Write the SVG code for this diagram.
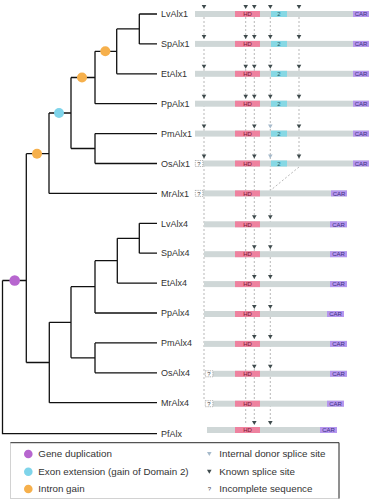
<svg xmlns="http://www.w3.org/2000/svg" width="373" height="500" viewBox="0 0 373 500">
<defs>
<style>
.lbl{font-family:"Liberation Sans",Arial,sans-serif;font-size:9px;fill:#333}
.leg{font-family:"Liberation Sans",Arial,sans-serif;font-size:9.8px;fill:#333}
.tree{fill:none;stroke:#111;stroke-width:1.3}
.bar{fill:#cfd7d7}
.hd{fill:#ee829f}
.d2{fill:#86d8e4}
.car{fill:#b596ee}
.bt{font-family:"Liberation Sans",Arial,sans-serif;font-size:6px;text-anchor:middle}
.hdt{fill:#7a1232}
.cart{fill:#3b2f80}
.d2t{fill:#1d5a66}
.dash{stroke:#999;stroke-width:0.7;stroke-dasharray:2 2;fill:none}
.q{fill:#fff;stroke:#777;stroke-width:0.6;stroke-dasharray:1.2 1}
.qt{font-family:"Liberation Sans",Arial,sans-serif;font-size:6px;fill:#444;text-anchor:middle}
.tk{fill:#3e4a4c}
.ti{fill:#a6bacb}
</style>
<path id="tri" d="M-2.3,0 L2.3,0 L0,4 Z"/>
</defs>

<g id="connectors">
<path class="tree" d="M139.3,14H157M139.3,43.9H157M139.3,14V43.9M116.7,28.9H139.3M116.7,73.8H157M116.7,28.9V73.8M95,51.3H116.7M95,103.7H157M95,51.3V103.7M71,77.5H95M95,133.6H157M95,163.5H157M95,133.6V163.5M71,148.5H95M71,77.5V148.5M49,113H71M49,193.4H157M49,113V193.4M26.3,153.7H49"/>
<path class="tree" d="M139.3,223.3H157M139.3,253.2H157M139.3,223.3V253.2M117.3,238.3H139.3M117.3,283.1H157M117.3,238.3V283.1M95,260.7H117.3M95,313H157M95,260.7V313M71,286.7H95M95,342.9H157M95,372.8H157M95,342.9V372.8M71,357.8H95M71,286.7V357.8M49.3,322.3H71M49.3,402.7H157M49.3,322.3V402.7M26.3,362.5H49.3M26.3,153.7V362.5M2.5,280.5H26.3M2.5,280.5V433.7H157"/>
<g id="dashes">
<path class="dash" d="M204,17V400M245.7,17V425M254.3,17V421M270.3,17V421M299,17V160M299,167L271,190"/>
</g>
</g>

<g id="events">
<circle cx="105.3" cy="51.3" r="5" fill="#f6b04c"/>
<circle cx="82" cy="77.5" r="5" fill="#f6b04c"/>
<circle cx="59" cy="113" r="5" fill="#7fd4ea"/>
<circle cx="37" cy="153.7" r="5" fill="#f6b04c"/>
<circle cx="14.7" cy="280.5" r="5.3" fill="#b766cf"/>
</g>

<g id="LvAlx1"><text class="lbl" x="161" y="17.2">LvAlx1</text>
<rect class="bar" x="195" y="11" width="174" height="6"/><rect class="hd" x="235" y="11" width="25" height="6"/><text class="bt hdt" x="247.5" y="16.2">HD</text><rect class="d2" x="271" y="11" width="16" height="6"/><text class="bt d2t" x="279" y="16.2">2</text><rect class="car" x="353" y="11" width="16" height="6"/><text class="bt cart" x="361" y="16.2">CAR</text>
<use href="#tri" class="tk" x="204" y="5"/><use href="#tri" class="tk" x="245.7" y="5"/><use href="#tri" class="tk" x="254.3" y="5"/><use href="#tri" class="tk" x="270.3" y="5"/><use href="#tri" class="tk" x="299" y="5"/></g>

<g id="SpAlx1"><text class="lbl" x="161" y="47.1">SpAlx1</text>
<rect class="bar" x="195" y="40.9" width="174" height="6"/><rect class="hd" x="235" y="40.9" width="25" height="6"/><text class="bt hdt" x="247.5" y="46.1">HD</text><rect class="d2" x="271" y="40.9" width="16" height="6"/><text class="bt d2t" x="279" y="46.1">2</text><rect class="car" x="353" y="40.9" width="16" height="6"/><text class="bt cart" x="361" y="46.1">CAR</text>
<use href="#tri" class="tk" x="204" y="34.9"/><use href="#tri" class="tk" x="245.7" y="34.9"/><use href="#tri" class="tk" x="254.3" y="34.9"/><use href="#tri" class="tk" x="270.3" y="34.9"/><use href="#tri" class="tk" x="299" y="34.9"/></g>

<g id="EtAlx1"><text class="lbl" x="161" y="77">EtAlx1</text>
<rect class="bar" x="195" y="70.8" width="174" height="6"/><rect class="hd" x="235" y="70.8" width="25" height="6"/><text class="bt hdt" x="247.5" y="76">HD</text><rect class="d2" x="271" y="70.8" width="16" height="6"/><text class="bt d2t" x="279" y="76">2</text><rect class="car" x="353" y="70.8" width="16" height="6"/><text class="bt cart" x="361" y="76">CAR</text>
<use href="#tri" class="tk" x="204" y="64.8"/><use href="#tri" class="tk" x="245.7" y="64.8"/><use href="#tri" class="tk" x="254.3" y="64.8"/><use href="#tri" class="tk" x="270.3" y="64.8"/><use href="#tri" class="tk" x="299" y="64.8"/></g>

<g id="PpAlx1"><text class="lbl" x="161" y="106.9">PpAlx1</text>
<rect class="bar" x="195" y="100.7" width="174" height="6"/><rect class="hd" x="235" y="100.7" width="25" height="6"/><text class="bt hdt" x="247.5" y="105.9">HD</text><rect class="d2" x="271" y="100.7" width="16" height="6"/><text class="bt d2t" x="279" y="105.9">2</text><rect class="car" x="353" y="100.7" width="16" height="6"/><text class="bt cart" x="361" y="105.9">CAR</text>
<use href="#tri" class="tk" x="204" y="94.7"/><use href="#tri" class="tk" x="245.7" y="94.7"/><use href="#tri" class="tk" x="254.3" y="94.7"/><use href="#tri" class="tk" x="270.3" y="94.7"/><use href="#tri" class="tk" x="299" y="94.7"/></g>

<g id="PmAlx1"><text class="lbl" x="161" y="136.8">PmAlx1</text>
<rect class="bar" x="195" y="130.6" width="174" height="6"/><rect class="hd" x="235" y="130.6" width="25" height="6"/><text class="bt hdt" x="247.5" y="135.8">HD</text><rect class="d2" x="271" y="130.6" width="16" height="6"/><text class="bt d2t" x="279" y="135.8">2</text><rect class="car" x="353" y="130.6" width="16" height="6"/><text class="bt cart" x="361" y="135.8">CAR</text>
<use href="#tri" class="tk" x="204" y="124.6"/><use href="#tri" class="tk" x="254.3" y="124.6"/><use href="#tri" class="ti" x="270.3" y="124.6"/><use href="#tri" class="tk" x="299" y="124.6"/></g>

<g id="OsAlx1"><text class="lbl" x="161" y="166.7">OsAlx1</text>
<rect class="bar" x="203" y="160.5" width="166" height="6"/><rect class="q" x="195.3" y="160.5" width="7.5" height="6"/><text class="qt" x="199" y="165.6">?</text><rect class="hd" x="235" y="160.5" width="25" height="6"/><text class="bt hdt" x="247.5" y="165.7">HD</text><rect class="d2" x="271" y="160.5" width="16" height="6"/><text class="bt d2t" x="279" y="165.7">2</text><rect class="car" x="353" y="160.5" width="16" height="6"/><text class="bt cart" x="361" y="165.7">CAR</text>
<use href="#tri" class="tk" x="204" y="154.5"/><use href="#tri" class="tk" x="254.3" y="154.5"/><use href="#tri" class="ti" x="270.3" y="154.5"/><use href="#tri" class="tk" x="299" y="154.5"/></g>

<g id="MrAlx1"><text class="lbl" x="161" y="196.6">MrAlx1</text>
<rect class="bar" x="203" y="190.4" width="144" height="6"/><rect class="q" x="195.3" y="190.4" width="7.5" height="6"/><text class="qt" x="199" y="195.5">?</text><rect class="hd" x="235" y="190.4" width="25" height="6"/><text class="bt hdt" x="247.5" y="195.6">HD</text><rect class="car" x="331" y="190.4" width="16" height="6"/><text class="bt cart" x="339" y="195.6">CAR</text></g>

<g id="LvAlx4"><text class="lbl" x="161" y="226.5">LvAlx4</text>
<rect class="bar" x="204" y="221.3" width="143" height="6"/><rect class="hd" x="235" y="221.3" width="25" height="6"/><text class="bt hdt" x="247.5" y="226.5">HD</text><rect class="car" x="330" y="221.3" width="17" height="6"/><text class="bt cart" x="338.5" y="226.5">CAR</text>
<use href="#tri" class="tk" x="254.3" y="215.3"/><use href="#tri" class="tk" x="270.3" y="215.3"/></g>

<g id="SpAlx4"><text class="lbl" x="161" y="256.4">SpAlx4</text>
<rect class="bar" x="204" y="251.2" width="143" height="6"/><rect class="hd" x="235" y="251.2" width="25" height="6"/><text class="bt hdt" x="247.5" y="256.4">HD</text><rect class="car" x="330" y="251.2" width="17" height="6"/><text class="bt cart" x="338.5" y="256.4">CAR</text>
<use href="#tri" class="tk" x="254.3" y="245.2"/><use href="#tri" class="tk" x="270.3" y="245.2"/></g>

<g id="EtAlx4"><text class="lbl" x="161" y="286.3">EtAlx4</text>
<rect class="bar" x="204" y="281.1" width="143" height="6"/><rect class="hd" x="235" y="281.1" width="25" height="6"/><text class="bt hdt" x="247.5" y="286.3">HD</text><rect class="car" x="330" y="281.1" width="17" height="6"/><text class="bt cart" x="338.5" y="286.3">CAR</text>
<use href="#tri" class="tk" x="254.3" y="275.1"/><use href="#tri" class="tk" x="270.3" y="275.1"/></g>

<g id="PpAlx4"><text class="lbl" x="161" y="316.2">PpAlx4</text>
<rect class="bar" x="204" y="311" width="140" height="6"/><rect class="hd" x="235" y="311" width="25" height="6"/><text class="bt hdt" x="247.5" y="316.2">HD</text><rect class="car" x="327" y="311" width="17" height="6"/><text class="bt cart" x="335.5" y="316.2">CAR</text>
<use href="#tri" class="tk" x="254.3" y="305"/><use href="#tri" class="tk" x="270.3" y="305"/></g>

<g id="PmAlx4"><text class="lbl" x="161" y="346.1">PmAlx4</text>
<rect class="bar" x="204" y="340.9" width="143" height="6"/><rect class="hd" x="235" y="340.9" width="25" height="6"/><text class="bt hdt" x="247.5" y="346.1">HD</text><rect class="car" x="330" y="340.9" width="17" height="6"/><text class="bt cart" x="338.5" y="346.1">CAR</text>
<use href="#tri" class="tk" x="254.3" y="334.9"/><use href="#tri" class="tk" x="270.3" y="334.9"/></g>

<g id="OsAlx4"><text class="lbl" x="161" y="376">OsAlx4</text>
<rect class="bar" x="213" y="370.8" width="134" height="6"/><rect class="q" x="205.3" y="370.8" width="7.5" height="6"/><text class="qt" x="209" y="375.9">?</text><rect class="hd" x="235" y="370.8" width="25" height="6"/><text class="bt hdt" x="247.5" y="376">HD</text><rect class="car" x="330" y="370.8" width="17" height="6"/><text class="bt cart" x="338.5" y="376">CAR</text>
<use href="#tri" class="tk" x="254.3" y="364.8"/><use href="#tri" class="tk" x="270.3" y="364.8"/></g>

<g id="MrAlx4"><text class="lbl" x="161" y="405.9">MrAlx4</text>
<rect class="bar" x="213" y="400.7" width="131" height="6"/><rect class="q" x="205.3" y="400.7" width="7.5" height="6"/><text class="qt" x="209" y="405.8">?</text><rect class="hd" x="235" y="400.7" width="25" height="6"/><text class="bt hdt" x="247.5" y="405.9">HD</text><rect class="car" x="327" y="400.7" width="17" height="6"/><text class="bt cart" x="335.5" y="405.9">CAR</text></g>

<g id="PfAlx"><text class="lbl" x="161" y="436.9">PfAlx</text>
<rect class="bar" x="207" y="427" width="130" height="6"/><rect class="hd" x="235" y="427" width="25" height="6"/><text class="bt hdt" x="247.5" y="432.2">HD</text><rect class="car" x="320" y="427" width="17" height="6"/><text class="bt cart" x="328.5" y="432.2">CAR</text>
<use href="#tri" class="tk" x="254.3" y="421"/><use href="#tri" class="tk" x="270.3" y="421"/></g>

<g id="legend">
<rect x="10.5" y="442.7" width="328.5" height="55.8" fill="#fff" stroke="#c8c8c8" stroke-width="0.8"/>
<path d="M10.5,442.7H339V498.5" fill="none" stroke="#222" stroke-width="0.9"/>
<circle cx="28.3" cy="454" r="4.3" fill="#b766cf"/><text class="leg" x="38.3" y="457.4">Gene duplication</text>
<circle cx="28.3" cy="471.8" r="4.3" fill="#7fd4ea"/><text class="leg" x="38.3" y="475.2">Exon extension (gain of Domain 2)</text>
<circle cx="28.3" cy="489" r="4.3" fill="#f6b04c"/><text class="leg" x="38.3" y="492.4">Intron gain</text>
<use href="#tri" class="ti" x="209.3" y="452"/><text class="leg" x="219.3" y="457.4">Internal donor splice site</text>
<use href="#tri" class="tk" x="209.3" y="469.8"/><text class="leg" x="219.3" y="475.2">Known splice site</text>
<text class="qt" x="209.3" y="491.3">?</text><text class="leg" x="219.3" y="492.4">Incomplete sequence</text>
</g>
</svg>
